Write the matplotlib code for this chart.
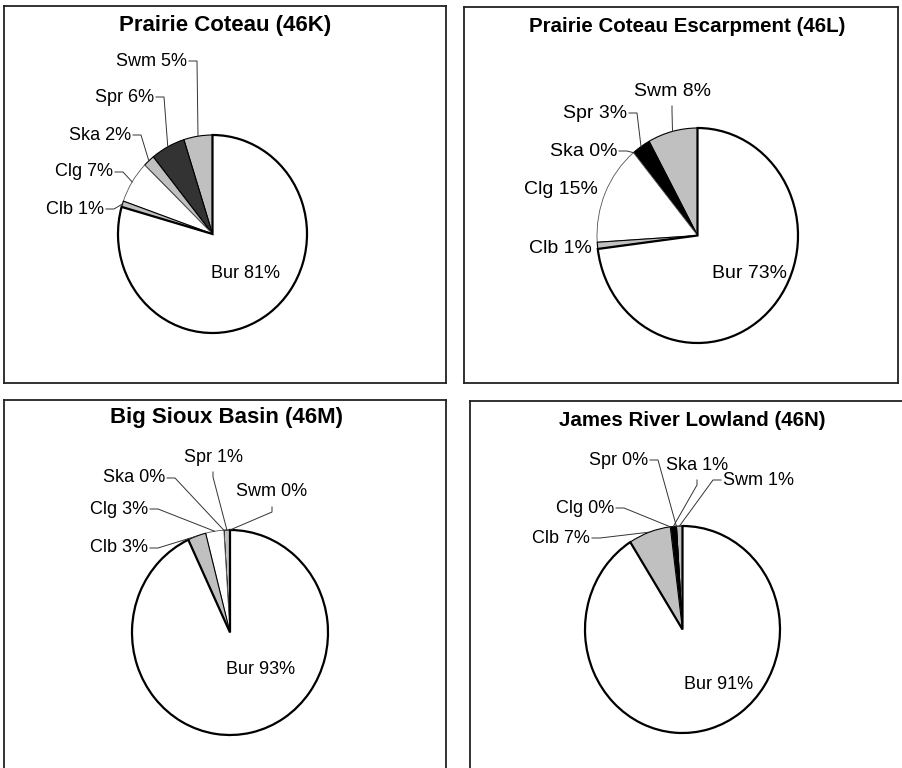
import numpy as np
import matplotlib
matplotlib.use("Agg")
import matplotlib.pyplot as plt

plt.rcParams["font.family"] = ["Liberation Sans", "DejaVu Sans"]

W, H = 902, 768

species = ["Swm", "Spr", "Ska", "Clg", "Clb", "Bur"]
titles = ["Prairie Coteau (46K)", "Prairie Coteau Escarpment (46L)",
          "Big Sioux Basin (46M)", "James River Lowland (46N)"]

# percent of each species per ecoregion (as labelled)
pct_46k = [5, 6, 2, 7, 1, 81]
pct_46l = [8, 3, 0, 15, 1, 73]
pct_46m = [0, 1, 0, 3, 3, 93]
pct_46n = [1, 0, 1, 0, 7, 91]

G = "#c0c0c0"
colors = [
    [G, "#333333", G, "white", G, "white"],
    [G, "black", G, "white", G, "white"],
    [G, G, G, "white", G, "white"],
    [G, G, "black", "white", G, "white"],
]

# layout in pixels: panel box, pie centre / radii, title, label anchors
panels = [
    dict(box=(4, 6, 446, 383), cx=212.5, cy=234, rx=94.5, ry=99,
         title=(225, 26, 16), fs=13,
         labels={"Swm": (187, 61, "right", "h"), "Spr": (154, 97, "right", "h"),
                 "Ska": (131, 135, "right", "h"), "Clg": (113, 172, "right", "h"),
                 "Clb": (104, 209, "right", "h"), "Bur": (245, 273, "center", None)}),
    dict(box=(464, 7, 898, 383), cx=697.5, cy=235.5, rx=100.5, ry=107.5,
         title=(687, 26, 14.8), fs=14,
         labels={"Swm": (672, 91, "center", "v"), "Spr": (627, 113, "right", "h"),
                 "Ska": (617, 151, "right", "h"), "Clg": (598, 189, "right", None),
                 "Clb": (592, 248, "right", None), "Bur": (750, 273, "center", None)}),
    dict(box=(4, 400, 446, 800), cx=230, cy=632.5, rx=98, ry=102.5,
         title=(227, 418, 16), fs=13,
         labels={"Swm": (272, 492, "center", "v"), "Spr": (213, 457, "center", "v"),
                 "Ska": (165, 478, "right", "h"), "Clg": (148, 509, "right", "h"),
                 "Clb": (148, 548, "right", "h"), "Bur": (261, 670, "center", None)}),
    dict(box=(470, 401, 950, 800), cx=682.5, cy=629.5, rx=97.5, ry=103.5,
         title=(692, 420, 14.8), fs=13,
         labels={"Swm": (723, 480, "left", "hl"), "Spr": (648, 460, "right", "h"),
                 "Ska": (697, 465, "center", "v"), "Clg": (614, 508, "right", "h"),
                 "Clb": (590, 538, "right", "h"), "Bur": (719, 684, "center", None)}),
]


def to_data(p, x, y):
    return (x - p["cx"]) / p["rx"], (p["cy"] - y) / p["ry"]


fig = plt.figure(figsize=(W / 100, H / 100), dpi=100)

for p, vals, cols, title in zip(panels, [pct_46k, pct_46l, pct_46m, pct_46n], colors, titles):
    x0, y0, x1, y1 = p["box"]
    ax = fig.add_axes([x0 / W, 1 - y1 / H, (x1 - x0) / W, (y1 - y0) / H])
    wedges, _ = ax.pie(vals, colors=cols, startangle=90, counterclock=True, frame=True,
                       wedgeprops=dict(edgecolor="black", linewidth=0.8))
    wedges[-1].set_linewidth(1.6)
    wedges[3].set_edgecolor("#555555")
    wedges[3].set_linewidth(0.6)

    ax.set_xlim(to_data(p, x0, 0)[0], to_data(p, x1, 0)[0])
    ax.set_ylim(to_data(p, 0, y1)[1], to_data(p, 0, y0)[1])
    ax.set_aspect("auto")
    ax.set_xticks([])
    ax.set_yticks([])
    for s in ax.spines.values():
        s.set_linewidth(1.3)
        s.set_color("#222222")

    for name, v, w in zip(species, vals, wedges):
        x, y, ha, leader = p["labels"][name]
        tx, ty = to_data(p, x, y)
        ax.text(tx, ty, f"{name} {v}%", ha=ha, va="center", fontsize=p["fs"])
        if leader is None:
            continue
        if leader == "h":
            pts = [(x + 2, y), (x + 10, y)]
        elif leader == "hl":
            pts = [(x - 2, y), (x - 10, y)]
        else:
            pts = [(x, y + 15), (x, y + 20)]
        mid = np.deg2rad((w.theta1 + w.theta2) / 2)
        xs = [to_data(p, a, b)[0] for a, b in pts] + [np.cos(mid)]
        ys = [to_data(p, a, b)[1] for a, b in pts] + [np.sin(mid)]
        ax.plot(xs, ys, color="#333333", lw=0.7)

    tx, ty, tfs = p["title"]
    fig.text(tx / W, 1 - ty / H, title, ha="center", va="center",
             fontsize=tfs, fontweight="bold")

fig.savefig("out.png", dpi=100)
